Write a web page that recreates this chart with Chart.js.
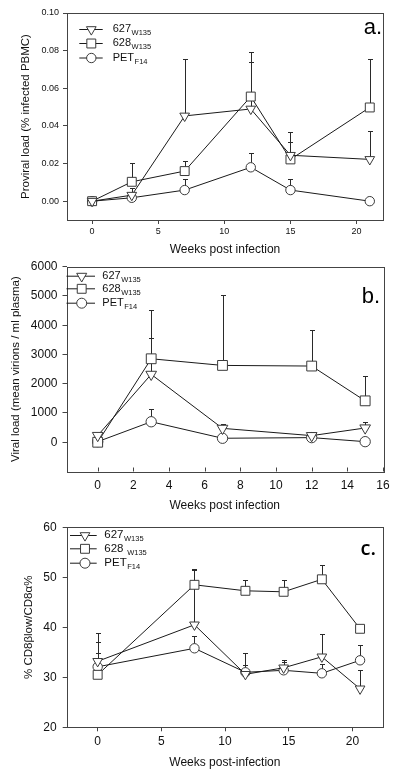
<!DOCTYPE html>
<html>
<head>
<meta charset="utf-8">
<script src="https://cdn.jsdelivr.net/npm/chart.js@4.4.1/dist/chart.umd.min.js"></script>
<style>
html, body { margin: 0; padding: 0; background: #fff; }
body { width: 400px; height: 775px; position: relative; overflow: hidden; }
canvas { position: absolute; left: 0; }
</style>
</head>
<body>
<canvas id="chartA" width="400" height="258" style="top:0px"></canvas>
<canvas id="chartB" width="400" height="262" style="top:258px"></canvas>
<canvas id="chartC" width="400" height="255" style="top:520px"></canvas>
<script>
// series names (subscript part kept apart)
var seriesNames = ['627', '628', 'PET'];
var seriesSubs = ['W135', 'W135', 'F14'];

// a. proviral load
var weeksA = [0, 3, 7, 12, 15, 21];
var a627 = [0, 0.0032, 0.0453, 0.049, 0.0244, 0.0222];
var a627Err = [null, 0.0068, 0.0756, 0.074, 0.0316, 0.0373];
var a628 = [0, 0.0103, 0.016, 0.0556, 0.0222, 0.0498];
var a628Err = [null, 0.0204, 0.0215, 0.0791, 0.037, 0.0757];
var aPET = [0, 0.0018, 0.0059, 0.018, 0.0059, 0];
var aPETErr = [null, null, 0.0117, 0.0258, 0.0117, null];
var xTicksA = [0, 5, 10, 15, 20];
var yTicksA = [0, 0.02, 0.04, 0.06, 0.08, 0.10];

// b. viral load
var weeksB = [0, 3, 7, 12, 15];
var b627 = [230, 2320, 475, 226, 487];
var b627Err = [null, 3566, 620, 340, 700];
var b628 = [0, 2853, 2626, 2604, 1415];
var b628Err = [null, 4528, 5037, 3849, 2264];
var bPET = [20, 700, 136, 158, 20];
var bPETErr = [null, 1120, null, null, null];
var xTicksB = [0, 2, 4, 6, 8, 10, 12, 14, 16];
var yTicksB = [0, 1000, 2000, 3000, 4000, 5000, 6000];

// c. CD8 beta low
var weeksC = [0, 7.6, 11.6, 14.6, 17.6, 20.6];
var c627 = [33.2, 40.5, 30.6, 31.9, 34.1, 27.7];
var c627Err = [37.0, 51.4, 34.8, 33.4, 38.6, 31.4];
var c628 = [30.5, 48.5, 47.3, 47.1, 49.6, 39.7];
var c628Err = [34.8, 51.7, 49.4, 49.4, 52.4, null];
var cPET = [32.1, 35.8, 31.0, 31.4, 30.8, 33.4];
var cPETErr = [38.9, 38.2, 32.5, 33.0, 32.7, 36.5];
var xTicksC = [0, 5, 10, 15, 20];
var yTicksC = [20, 30, 40, 50, 60];

var FONT = "'Liberation Sans', Arial, sans-serif";
var INK = '#111';

function pts(xs, ys) {
    return xs.map(function (x, i) { return { x: x, y: ys[i] } })
}

var markers = [
    { pointStyle: 'triangle', rotation: 180, radius: 5.6 },
    { pointStyle: 'rect', rotation: 0, radius: 6.3 },
    { pointStyle: 'circle', rotation: 0, radius: 4.7 }
]

function makeSet(i, xs, ys, errs, scaleUp) {
    var m = markers[i]
    return {
        label: seriesNames[i],
        data: pts(xs, ys),
        errTop: errs,
        borderColor: '#1a1a1a',
        borderWidth: 1,
        pointStyle: m.pointStyle,
        rotation: m.rotation,
        pointRadius: m.radius * (scaleUp || 1),
        pointHoverRadius: m.radius * (scaleUp || 1),
        pointBackgroundColor: '#fff',
        pointBorderColor: '#3a3a3a',
        pointBorderWidth: 1,
        tension: 0,
        clip: false
    }
}

// upper error bars, drawn under the markers
var errorBars = {
    id: 'errorBars',
    beforeDatasetsDraw: function (chart) {
        var ctx = chart.ctx, xs = chart.scales.x, ys = chart.scales.y
        ctx.save()
        ctx.strokeStyle = '#2a2a2a'
        ctx.lineWidth = 1
        chart.data.datasets.forEach(function (ds) {
            if (!ds.errTop) return
            ds.data.forEach(function (p, i) {
                var top = ds.errTop[i]
                if (top == null) return
                var px = Math.round(xs.getPixelForValue(p.x)) + 0.5
                var y0 = ys.getPixelForValue(p.y)
                var y1 = Math.round(ys.getPixelForValue(top)) + 0.5
                ctx.beginPath()
                ctx.moveTo(px, y0)
                ctx.lineTo(px, y1)
                ctx.moveTo(px - 2.5, y1)
                ctx.lineTo(px + 2.5, y1)
                ctx.stroke()
            })
        })
        ctx.restore()
    }
}

// box, inward ticks, legend and panel letter
var decor = {
    id: 'decor',
    afterDraw: function (chart) {
        var o = chart.options.plugins.decor
        var ctx = chart.ctx, a = chart.chartArea
        ctx.save()
        ctx.strokeStyle = '#444'
        ctx.lineWidth = 1
        ctx.strokeRect(Math.round(a.left) + 0.5, Math.round(a.top) + 0.5,
            Math.round(a.right - a.left), Math.round(a.bottom - a.top))

        if (o.inwardX) {
            var xs = chart.scales.x
            ctx.beginPath()
            xs.ticks.forEach(function (t) {
                var px = Math.round(xs.getPixelForValue(t.value)) + 0.5
                ctx.moveTo(px, a.bottom)
                ctx.lineTo(px, a.bottom - 4)
            })
            ctx.stroke()
        }

        var lg = o.legend
        lg.rows.forEach(function (y, i) {
            var ds = chart.data.datasets[i]
            ctx.strokeStyle = '#1a1a1a'
            ctx.beginPath()
            ctx.moveTo(lg.x0, y + 0.5)
            ctx.lineTo(lg.x1, y + 0.5)
            ctx.stroke()
            ctx.fillStyle = '#fff'
            ctx.strokeStyle = '#3a3a3a'
            Chart.helpers.drawPoint(ctx, {
                pointStyle: ds.pointStyle, rotation: ds.rotation,
                radius: lg.r[i], borderWidth: 1
            }, lg.mx, y + 0.5)
            ctx.fillStyle = INK
            ctx.textBaseline = 'alphabetic'
            ctx.textAlign = 'left'
            ctx.font = lg.size + 'px ' + FONT
            var name = lg.names[i]
            ctx.fillText(name, lg.tx, y + lg.size * 0.3)
            var w = ctx.measureText(name).width
            ctx.font = lg.sub + 'px ' + FONT
            ctx.fillText(seriesSubs[i], lg.tx + w + 0.5, y + lg.size * 0.3 + 3)
        })

        ctx.fillStyle = '#000'
        ctx.textAlign = 'right'
        ctx.textBaseline = 'alphabetic'
        ctx.font = o.letter.font
        ctx.fillText(o.letter.text, o.letter.x, o.letter.y)
        ctx.restore()
    }
}

function fixedTicks(list) {
    return function (s) { s.ticks = list.map(function (v) { return { value: v } }) }
}

function makeChart(id, p) {
    return new Chart(document.getElementById(id), {
        type: 'line',
        data: { datasets: p.datasets },
        options: {
            responsive: false,
            animation: false,
            devicePixelRatio: 1,
            layout: { padding: { top: p.top, right: 17, left: 0, bottom: 0 } },
            plugins: {
                legend: { display: false },
                tooltip: { enabled: false },
                decor: p.decor
            },
            scales: {
                x: {
                    type: 'linear',
                    min: p.xMin, max: p.xMax,
                    afterBuildTicks: fixedTicks(p.xTicks),
                    afterFit: function (s) { s.height = p.xH; s.paddingLeft = 0; s.paddingRight = 0 },
                    border: { display: false },
                    grid: { display: true, drawOnChartArea: false, drawTicks: !p.inwardX, tickLength: 4, tickColor: '#444' },
                    ticks: {
                        font: { family: FONT, size: p.tickSize }, color: INK,
                        padding: p.xPad, maxRotation: 0, autoSkip: false,
                        callback: function (v) { return String(v) }
                    },
                    title: {
                        display: true, text: p.xTitle, color: INK,
                        font: { family: FONT, size: 12 },
                        padding: { top: 0, bottom: p.xTitlePad }
                    }
                },
                y: {
                    type: 'linear',
                    min: p.yMin, max: p.yMax,
                    afterBuildTicks: fixedTicks(p.yTicks),
                    afterFit: function (s) { s.width = p.yW; s.paddingTop = 0; s.paddingBottom = 0 },
                    border: { display: false },
                    grid: { display: true, drawOnChartArea: false, drawTicks: true, tickLength: 4, tickColor: '#444' },
                    ticks: {
                        font: { family: FONT, size: p.tickSize }, color: INK,
                        padding: p.yPad, autoSkip: false,
                        callback: p.yFmt
                    },
                    title: {
                        display: true, text: p.yTitle, color: INK,
                        font: { family: FONT, size: 11.5 },
                        padding: { top: p.yTitlePad, bottom: 0 }
                    }
                }
            }
        },
        plugins: [errorBars, decor]
    })
}

makeChart('chartA', {
    datasets: [
        makeSet(0, weeksA, a627, a627Err),
        makeSet(1, weeksA, a628, a628Err),
        makeSet(2, weeksA, aPET, aPETErr)
    ],
    top: 13, xH: 38, yW: 67,
    xMin: -1.9, xMax: 22, xTicks: xTicksA,
    yMin: -0.01, yMax: 0.10, yTicks: yTicksA,
    yFmt: function (v) { return v.toFixed(2) },
    tickSize: 9, xPad: 2.5, yPad: 4,
    xTitle: 'Weeks post infection', xTitlePad: 1.5,
    yTitle: 'Proviral load (% infected PBMC)', yTitlePad: 19,
    decor: {
        legend: { x0: 79.3, x1: 102.7, mx: 91.3, tx: 112.7, rows: [29, 43, 57.5], r: [5.6, 6.3, 4.7], names: seriesNames, size: 11, sub: 7.5 },
        letter: { text: 'a.', font: '22px ' + FONT, x: 382, y: 33.5 }
    }
})

makeChart('chartB', {
    datasets: [
        makeSet(0, weeksB, b627, b627Err, 1.1),
        makeSet(1, weeksB, b628, b628Err, 1.1),
        makeSet(2, weeksB, bPET, bPETErr, 1.1)
    ],
    top: 8.7, xH: 48.5, yW: 66.5,
    xMin: -1.75, xMax: 16, xTicks: xTicksB,
    yMin: -1000, yMax: 6000, yTicks: yTicksB,
    yFmt: function (v) { return String(v) },
    tickSize: 12, xPad: 7.3, yPad: 5, inwardX: true,
    xTitle: 'Weeks post infection', xTitlePad: 6.8,
    yTitle: 'Viral load (mean virions / ml plasma)', yTitlePad: 9,
    decor: {
        inwardX: true,
        legend: { x0: 66.5, x1: 95, mx: 81.7, tx: 102.3, rows: [17.7, 30.3, 44.7], r: [5.8, 6.3, 5], names: seriesNames, size: 11, sub: 7.5 },
        letter: { text: 'b.', font: '22px ' + FONT, x: 380, y: 45.3 }
    }
})

makeChart('chartC', {
    datasets: [
        makeSet(0, weeksC, c627, c627Err),
        makeSet(1, weeksC, c628, c628Err),
        makeSet(2, weeksC, cPET, cPETErr)
    ],
    top: 6, xH: 47.7, yW: 66.7,
    xMin: -2.43, xMax: 22.4, xTicks: xTicksC,
    yMin: 20, yMax: 60, yTicks: yTicksC,
    yFmt: function (v) { return String(v) },
    tickSize: 12, xPad: 3.2, yPad: 6,
    xTitle: 'Weeks post-infection', xTitlePad: 5.5,
    yTitle: '% CD8\u03b2low/CD8\u03b1%', yTitlePad: 22,
    decor: {
        legend: { x0: 70, x1: 96.7, mx: 85, tx: 104.3, rows: [15, 28.3, 42.7], r: [5.6, 6.3, 5], names: ['627', '628 ', 'PET'], size: 11.5, sub: 7.5 },
        letter: { text: 'c.', font: '600 20px "Open Sans", sans-serif', x: 376, y: 35 }
    }
})
</script>
</body>
</html>
